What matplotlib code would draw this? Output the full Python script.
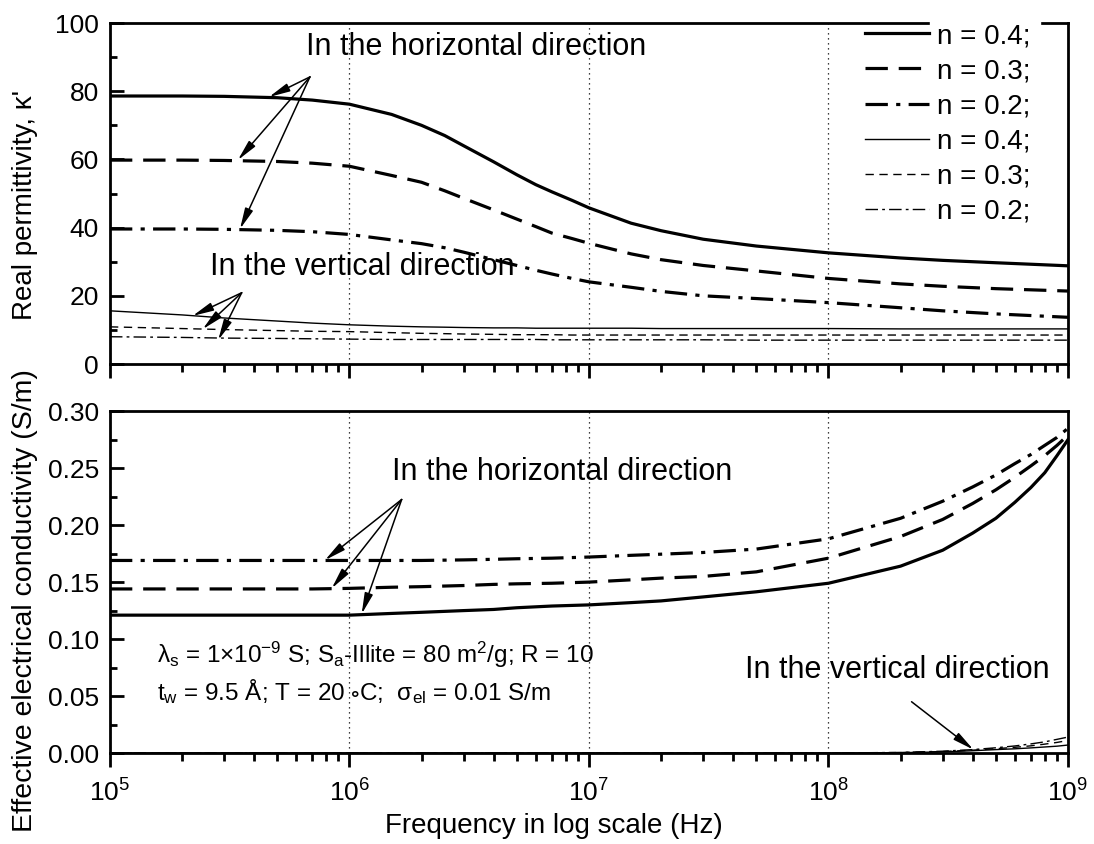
import matplotlib
matplotlib.use('Agg')
import matplotlib.pyplot as plt
from matplotlib.patches import Rectangle
from matplotlib.ticker import LogLocator, MultipleLocator, NullFormatter

plt.rcParams['font.family'] = ['Liberation Sans', 'DejaVu Sans']
plt.rcParams['mathtext.fontset'] = 'custom'
plt.rcParams['mathtext.rm'] = 'Liberation Sans'
plt.rcParams['mathtext.it'] = 'Liberation Sans:italic'
plt.rcParams['mathtext.bf'] = 'Liberation Sans:bold'
plt.rcParams['mathtext.fallback'] = 'stixsans'

# frequency points (Hz)
f_top = [1e5, 2e5, 3e5, 5e5, 7e5, 1e6, 1.5e6, 2e6, 2.5e6, 3e6, 4e6, 5e6, 6e6,
         7e6, 8.5e6, 1e7, 1.5e7, 2e7, 3e7, 5e7, 1e8, 2e8, 3e8, 5e8, 1e9]
f_bot = [1e5, 2e5, 3e5, 5e5, 7e5, 1e6, 1.5e6, 2e6, 3e6, 4e6, 5e6, 7e6, 1e7,
         1.5e7, 2e7, 3e7, 5e7, 1e8, 2e8, 3e8, 4e8, 5e8, 6e8, 7e8, 8e8, 9e8, 1e9]

# real permittivity, horizontal direction
kh_04 = [78.6, 78.6, 78.5, 78.1, 77.4, 76.2, 73.2, 70.0, 67.0, 64.0, 59.3, 55.5, 52.6,
         50.5, 48.0, 45.8, 41.3, 39.1, 36.6, 34.6, 32.6, 31.1, 30.4, 29.7, 28.8]
kh_03 = [59.8, 59.8, 59.7, 59.4, 58.9, 58.0, 55.3, 53.3, 50.8, 48.6, 45.2, 42.5, 40.3,
         38.4, 36.8, 35.4, 32.3, 30.6, 28.9, 27.3, 25.1, 23.5, 22.8, 22.1, 21.4]
kh_02 = [39.6, 39.6, 39.5, 39.2, 38.8, 38.0, 36.4, 35.3, 34.1, 32.8, 30.6, 28.9, 27.5,
         26.4, 25.1, 24.1, 22.5, 21.3, 20.0, 19.2, 18.0, 16.5, 15.6, 14.7, 13.7]
# real permittivity, vertical direction
kv_04 = [15.6, 14.4, 13.5, 12.6, 12.0, 11.5, 11.1, 10.9, 10.8, 10.7, 10.6, 10.6, 10.5,
         10.5, 10.5, 10.5, 10.5, 10.4, 10.4, 10.4, 10.4, 10.3, 10.3, 10.3, 10.3]
kv_03 = [10.9, 10.4, 10.1, 9.8, 9.6, 9.5, 9.2, 9.0, 8.9, 8.8, 8.7, 8.6, 8.6,
         8.6, 8.5, 8.5, 8.5, 8.5, 8.5, 8.5, 8.5, 8.5, 8.5, 8.5, 8.5]
kv_02 = [8.0, 7.8, 7.6, 7.5, 7.4, 7.3, 7.2, 7.2, 7.2, 7.2, 7.2, 7.2, 7.2,
         7.1, 7.1, 7.1, 7.1, 7.1, 7.1, 7.0, 7.0, 7.0, 7.0, 7.0, 7.0]

# effective conductivity (S/m), horizontal direction
sh_04 = [0.121, 0.121, 0.121, 0.121, 0.121, 0.121, 0.1225, 0.1235, 0.125, 0.126, 0.1275, 0.129, 0.130,
         0.132, 0.1335, 0.137, 0.1415, 0.149, 0.164, 0.178, 0.193, 0.206, 0.220, 0.233, 0.246, 0.261, 0.275]
sh_03 = [0.144, 0.144, 0.144, 0.144, 0.144, 0.1445, 0.1455, 0.146, 0.147, 0.148, 0.1485, 0.149, 0.150,
         0.152, 0.1535, 0.155, 0.159, 0.171, 0.190, 0.205, 0.219, 0.231, 0.242, 0.252, 0.261, 0.270, 0.279]
sh_02 = [0.169, 0.169, 0.169, 0.169, 0.169, 0.169, 0.169, 0.169, 0.1695, 0.170, 0.1705, 0.171, 0.172,
         0.1735, 0.1745, 0.176, 0.179, 0.188, 0.206, 0.221, 0.2335, 0.244, 0.254, 0.262, 0.270, 0.277, 0.285]
# effective conductivity, vertical direction
sv_04 = [0, 0, 0, 0, 0, 0, 0, 0, 0, 0, 0, 0, 0,
         0, 0, 0, 0, 0, 0.0003, 0.001, 0.002, 0.003, 0.0037, 0.0045, 0.0053, 0.006, 0.007]
sv_03 = [0, 0, 0, 0, 0, 0, 0, 0, 0, 0, 0, 0, 0,
         0, 0, 0, 0, 0, 0.0004, 0.0013, 0.0025, 0.0038, 0.005, 0.0063, 0.0078, 0.0093, 0.011]
sv_02 = [0, 0, 0, 0, 0, 0, 0, 0, 0, 0, 0, 0, 0,
         0, 0, 0, 0, 0, 0.0005, 0.0016, 0.003, 0.0046, 0.0062, 0.008, 0.0098, 0.012, 0.014]

labels = ['n = 0.4;', 'n = 0.3;', 'n = 0.2;', 'n = 0.4;', 'n = 0.3;', 'n = 0.2;']

# line styles: thick = horizontal, thin = vertical
thick = 2.3
thin = 1.0
st_solid = dict(color='k', lw=thick, ls='-')
st_dash = dict(color='k', lw=thick, dashes=(7.0, 3.4))
st_dashdot = dict(color='k', lw=thick, dashes=(7.0, 2.6, 1.3, 2.6))
st_solid_t = dict(color='k', lw=thin, ls='-')
st_dash_t = dict(color='k', lw=thin, dashes=(6, 4))
st_dashdot_t = dict(color='k', lw=thin, dashes=(9, 3, 2, 3))

fig = plt.figure(figsize=(10.94, 8.44), dpi=100)
ax1 = fig.add_axes([0.1005, 0.5687, 0.8757, 0.404])
ax2 = fig.add_axes([0.1005, 0.1078, 0.8757, 0.405])

l1, = ax1.plot(f_top, kh_04, **st_solid)
l2, = ax1.plot(f_top, kh_03, **st_dash)
l3, = ax1.plot(f_top, kh_02, **st_dashdot)
l4, = ax1.plot(f_top, kv_04, **st_solid_t)
l5, = ax1.plot(f_top, kv_03, **st_dash_t)
l6, = ax1.plot(f_top, kv_02, **st_dashdot_t)

ax2.plot(f_bot, sh_04, **st_solid)
ax2.plot(f_bot, sh_03, **st_dash)
ax2.plot(f_bot, sh_02, **st_dashdot)
ax2.plot(f_bot, sv_04, **st_solid_t)
ax2.plot(f_bot, sv_03, **st_dash_t)
ax2.plot(f_bot, sv_02, **st_dashdot_t)

for ax in (ax1, ax2):
    ax.set_xscale('log')
    ax.set_xlim(1e5, 1e9)
    ax.xaxis.set_major_locator(LogLocator(base=10, numticks=10))
    ax.xaxis.set_minor_locator(LogLocator(base=10, subs=range(2, 10), numticks=20))
    ax.xaxis.set_minor_formatter(NullFormatter())
    for s in ax.spines.values():
        s.set_linewidth(2.0)
    ax.tick_params(axis='x', which='major', direction='out', length=10, width=2, labelsize=19, pad=9)
    ax.tick_params(axis='x', which='minor', direction='out', length=5.5, width=2)
    ax.tick_params(axis='y', which='major', direction='in', length=10, width=2, labelsize=19, pad=8)
    ax.tick_params(axis='y', which='minor', direction='in', length=5, width=2)
    ax.grid(axis='x', which='major', ls=(0, (1, 3)), color='k', lw=0.9)

ax1.set_ylim(0, 100)
ax1.yaxis.set_major_locator(MultipleLocator(20))
ax1.yaxis.set_minor_locator(MultipleLocator(10))
ax1.tick_params(axis='x', which='both', labelbottom=False)

ax2.set_ylim(0, 0.30)
ax2.yaxis.set_major_locator(MultipleLocator(0.05))
ax2.yaxis.set_minor_locator(MultipleLocator(0.025))
ax2.yaxis.set_major_formatter(plt.FuncFormatter(lambda v, p: f'{v:.2f}'))

fig.text(0.023, 0.757, "Real permittivity, κ'", rotation=90, fontsize=20, ha='center', va='center')
fig.text(0.023, 0.289, 'Effective electrical conductivity (S/m)', rotation=90, fontsize=20.5,
         ha='center', va='center')
fig.text(0.506, 0.021, 'Frequency in log scale (Hz)', fontsize=20, ha='center', va='center')

# legend over top-right corner, white box breaking the top spine
ax1.add_patch(Rectangle((0.856, 0.97), 0.115, 0.06, transform=ax1.transAxes, color='white',
                        zorder=3, clip_on=False))
leg = ax1.legend([l1, l2, l3, l4, l5, l6], labels, loc='upper left', bbox_to_anchor=(0.788, 1.0),
                 frameon=False, fontsize=20, handlelength=2.3, handletextpad=0.3,
                 labelspacing=0.33, borderpad=0, borderaxespad=0)
leg.set_zorder(5)

arrow = dict(arrowstyle='-|>,head_length=0.9,head_width=0.18', color='k', lw=1.1,
             shrinkA=0, shrinkB=0, mutation_scale=14)

ax1.text(10**5.818, 90.6, 'In the horizontal direction', fontsize=22, va='baseline')
for tx, ty in [(10**5.664, 78.3), (10**5.534, 59.8), (10**5.543, 39.6)]:
    ax1.annotate('', xy=(tx, ty), xytext=(10**5.835, 84.2), arrowprops=arrow)

ax1.text(10**5.4175, 26.1, 'In the vertical direction', fontsize=22, va='baseline')
for tx, ty in [(10**5.345, 14.1), (10**5.387, 10.2), (10**5.452, 7.0)]:
    ax1.annotate('', xy=(tx, ty), xytext=(10**5.55, 20.9), arrowprops=arrow)

ax2.text(10**6.176, 0.2395, 'In the horizontal direction', fontsize=22, va='baseline')
for tx, ty in [(10**5.898, 0.1693), (10**5.926, 0.1445), (10**6.051, 0.122)]:
    ax2.annotate('', xy=(tx, ty), xytext=(10**6.218, 0.2225), arrowprops=arrow)

ax2.text(10**7.651, 0.0655, 'In the vertical direction', fontsize=22, va='baseline')
ax2.annotate('', xy=(10**8.605, 0.003), xytext=(10**8.347, 0.045), arrowprops=arrow)

ax2.text(10**5.195, 0.0787,
         r'λ$_\mathrm{s}$ = 1$\times$10$^{\mathrm{-9}}$ S; S$_\mathrm{a}$-Illite = 80 m$^\mathrm{2}$/g; R = 10',
         fontsize=17.5, va='baseline')
ax2.text(10**5.195, 0.0465,
         r't$_\mathrm{w}$ = 9.5 Å; T = 20 $\circ$C;  σ$_\mathrm{el}$ = 0.01 S/m',
         fontsize=17.5, va='baseline')

fig.savefig('out.png', dpi=100)
